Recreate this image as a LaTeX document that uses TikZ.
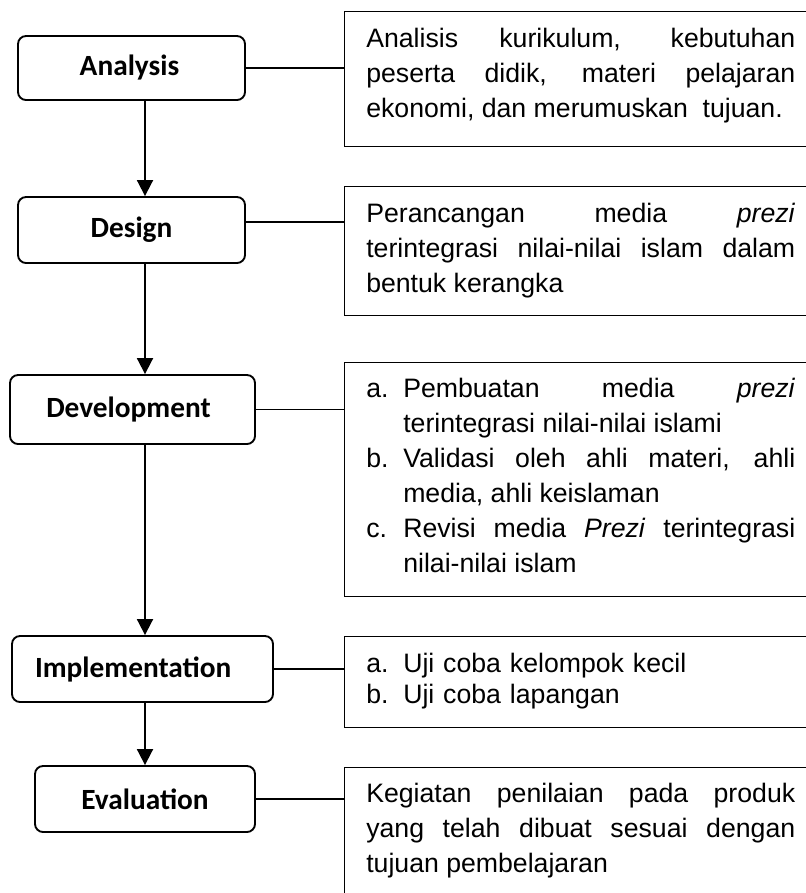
\documentclass[tikz,border=0pt]{standalone}
\usepackage{fontspec}
\setmainfont{Liberation Sans}
\newfontfamily\calibrifont{Carlito}
\usetikzlibrary{arrows.meta}
\tolerance=9999
\hbadness=10000
\hyphenpenalty=10000
\newcommand{\itm}[1]{\noindent\hangindent=27.75pt\hangafter=1\makebox[27.75pt][l]{#1}}
\tikzset{
  stage/.style={draw, line width=1.4pt, rounded corners=6pt, inner sep=0pt,
    font=\calibrifont\bfseries\fontsize{22}{26}\selectfont},
  descbox/.style={draw, line width=1.1pt, anchor=north west, inner sep=0pt, minimum width=360pt},
  desc/.style={anchor=base west, inner sep=0pt, text width=321.75pt, align=justify,
    font=\fontsize{20}{26.25}\selectfont},
  flow/.style={line width=1.4pt, -{Triangle[width=12pt,length=12pt]}},
  link/.style={line width=1.2pt}
}
\begin{document}
\begin{tikzpicture}[x=0.75pt, y=-0.75pt]
\useasboundingbox (0,0) rectangle (806,893);
\clip (0,0) rectangle (806,893);
\coordinate (col) at (145,0);
\node[stage, minimum width=170.25pt, minimum height=48pt] (analysis) at (131.5,68) {Analysis\hspace*{3pt}};
\node[stage, minimum width=170.25pt, minimum height=49.5pt] (design) at (131.5,230) {Design};
\node[stage, minimum width=183.75pt, minimum height=51.75pt] (develop) at (132.5,409.5) {Development\hspace*{6pt}};
\node[stage, minimum width=195.75pt, minimum height=49.5pt] (implement) at (142.5,669) {Implementation\hspace*{14pt}};
\node[stage, minimum width=165pt, minimum height=49.5pt] (evaluate) at (145,799) {Evaluation};
\node[descbox, minimum height=101.25pt] (d1) at (344,11) {};
\node[descbox, minimum height=96.75pt] (d2) at (344,186) {};
\node[descbox, minimum height=175.5pt] (d3) at (344,362) {};
\node[descbox, minimum height=68.25pt] (d4) at (344,636) {};
\node[descbox, minimum height=100pt] (d5) at (344,767) {};
\node[desc] (t1) at (366,47) {Analisis kurikulum, kebutuhan\linebreak peserta didik, materi pelajaran\linebreak ekonomi, dan merumuskan\ \ tujuan.};
\node[desc] (t2) at (366,222) {Perancangan media \textit{prezi}\linebreak terintegrasi nilai-nilai islam dalam\linebreak bentuk kerangka};
\node[desc] (t3) at (366,397) {\itm{a.}Pembuatan media \textit{prezi}\linebreak terintegrasi nilai-nilai islami\par
  \itm{b.}Validasi oleh ahli materi, ahli\linebreak media, ahli keislaman\par
  \itm{c.}Revisi media \textit{Prezi} terintegrasi\linebreak nilai-nilai islam\par};
\node[desc, align=left, font=\fontsize{20}{23.6}\selectfont] (t4) at (366,672) {\itm{a.}Uji coba kelompok kecil\par
  \itm{b.}Uji coba lapangan\par};
\node[desc] (t5) at (366,802) {Kegiatan penilaian pada produk\linebreak yang telah dibuat sesuai dengan\linebreak tujuan pembelajaran};
\draw[flow] (analysis.south -| col) -- (design.north -| col);
\draw[flow] (design.south -| col) -- (develop.north -| col);
\draw[flow] (develop.south -| col) -- (implement.north -| col);
\draw[flow] (implement.south -| col) -- (evaluate.north -| col);
\draw[link] (analysis.east) -- (analysis.east -| d1.west);
\draw[link] ([yshift=6pt]design.east) -- ([yshift=6pt]design.east -| d2.west);
\draw[link] (develop.east) -- (develop.east -| d3.west);
\draw[link] (implement.east) -- (implement.east -| d4.west);
\draw[link] (evaluate.east) -- (evaluate.east -| d5.west);
\end{tikzpicture}
\end{document}
